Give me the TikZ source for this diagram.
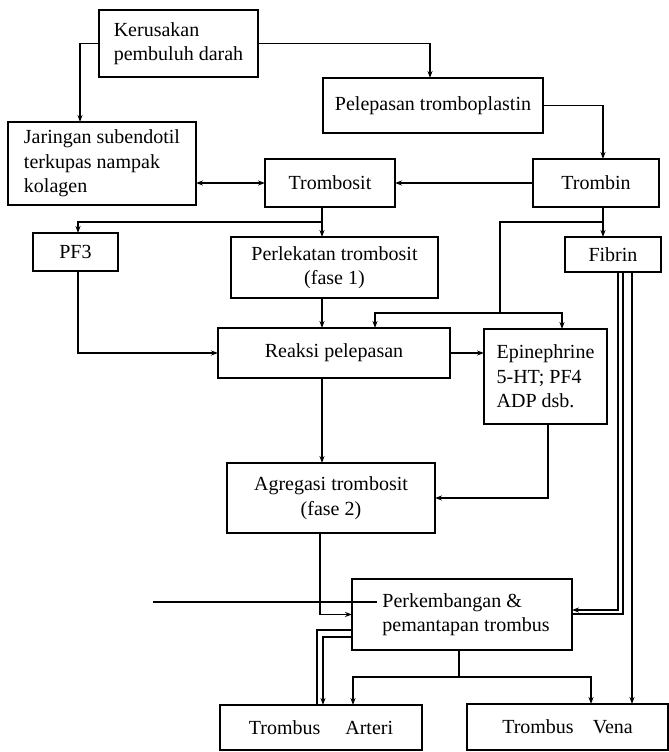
\documentclass[tikz,border=0pt]{standalone}
\usepackage{fontspec}
\setmainfont{Liberation Serif}
\usetikzlibrary{arrows.meta}
\begin{document}
\begin{tikzpicture}[x=1pt,y=-1pt,
  box/.style={draw, line width=1.5pt, inner sep=0pt, outer sep=0pt,
    font=\fontsize{20}{24.5}\selectfont},
  conn/.style={line width=1.4pt},
  arr/.style={conn, -{Stealth[length=7pt,width=5pt]}},
  darr/.style={conn, {Stealth[length=7pt,width=5pt]}-{Stealth[length=7pt,width=5pt]}}]
\useasboundingbox (0,0) rectangle (669,752);
% boxes
\node[box, minimum width=159pt, minimum height=67pt, align=left] (ker) at (178.5,43.5) {Kerusakan\\pembuluh darah};
\node[box, minimum width=220pt, minimum height=55pt] (pel) at (433,105.5) {Pelepasan tromboplastin};
\node[box, minimum width=188pt, minimum height=83pt, align=left] (jar) at (102,163.5) {Jaringan subendotil\\terkupas nampak\\kolagen};
\node[box, minimum width=130pt, minimum height=48pt] (trs) at (330,183) {Trombosit};
\node[box, minimum width=126pt, minimum height=48pt] (trn) at (596,183) {Trombin};
\node[box, minimum width=85pt, minimum height=38pt] (pf3) at (75.5,252) {PF3};
\node[box, minimum width=207pt, minimum height=61pt, align=center] (perl) at (334.5,267.5) {Perlekatan trombosit\\(fase 1)};
\node[box, minimum width=96pt, minimum height=35pt] (fib) at (613,254.5) {Fibrin};
\node[box, minimum width=232pt, minimum height=50pt] (reak) at (334,353) {Reaksi pelepasan};
\node[box, minimum width=123pt, minimum height=95pt, align=left] (epi) at (545.5,376.5) {Epinephrine\\5-HT; PF4\\ADP dsb.};
\node[box, minimum width=208pt, minimum height=70pt, align=center] (agr) at (331,498) {Agregasi trombosit\\(fase 2)};
\node[box, minimum width=220pt, minimum height=71pt, align=left] (perk) at (462,614.5) {\hspace*{8pt}Perkembangan \&\\\hspace*{8pt}pemantapan trombus};
\node[box, minimum width=202pt, minimum height=45pt] (ta) at (321,727.5) {Trombus\hspace{25pt}Arteri};
\node[box, minimum width=201pt, minimum height=46pt] (tv) at (567.5,727) {Trombus\hspace{19pt}Vena};
% connectors
\draw[arr] (ker.west) -| (jar.north -| 80,0);
\draw[arr] (ker.east) -| (pel.north -| 430,0);
\draw[arr] (pel.east) -| (trn.north -| 603,0);
\draw[arr] (trn.west) -- (trs.east);
\draw[darr] (trs.west) -- (trs.west -| jar.east);
\coordinate (b1) at (322,222);
\draw[conn] (trs.south -| b1) -- (b1);
\draw[arr] (b1) -| (pf3.north -| 78,0);
\draw[arr] (b1) -- (perl.north -| b1);
\draw[arr] (perl.south -| 322,0) -- (reak.north -| 322,0);
\draw[arr] (pf3.south -| 78,0) |- (reak.west);
\coordinate (b2) at (603,222);
\coordinate (b3) at (500,313);
\draw[conn] (trn.south -| b2) -- (b2);
\draw[arr] (b2) -- (fib.north -| b2);
\draw[conn] (b2) -| (b3);
\draw[arr] (b3) -| (reak.north -| 375,0);
\draw[arr] (b3) -| (epi.north -| 562,0);
\draw[arr] (reak.east) -- (epi.west |- reak.east);
\draw[arr] (reak.south -| 322,0) -- (agr.north -| 322,0);
\draw[arr] (epi.south -| 548,0) |- (agr.east);
\draw[arr] (agr.south -| 320,0) |- (perk.west);
\coordinate (s1) at (153,602);
\coordinate (s2) at (377,602);
\draw[conn, line width=1.1pt] (s1) -- (s2);
% double line perk -> arteri
\draw[conn] (perk.west |- 0,630) -| (ta.north -| 317,0);
\draw[arr] (perk.west |- 0,637) -| (ta.north -| 323,0);
\coordinate (b4) at (459,677);
\draw[conn] (perk.south -| b4) -- (b4);
\draw[arr] (b4) -| (ta.north -| 353,0);
\draw[arr] (b4) -| (tv.north -| 591,0);
% fibrin lines
\draw[arr] (fib.south -| 618,0) |- (perk.east |- 0,610);
\draw[conn] (fib.south -| 623,0) |- (perk.east |- 0,614);
\draw[arr] (fib.south -| 632,0) -- (tv.north -| 632,0);
\end{tikzpicture}
\end{document}
